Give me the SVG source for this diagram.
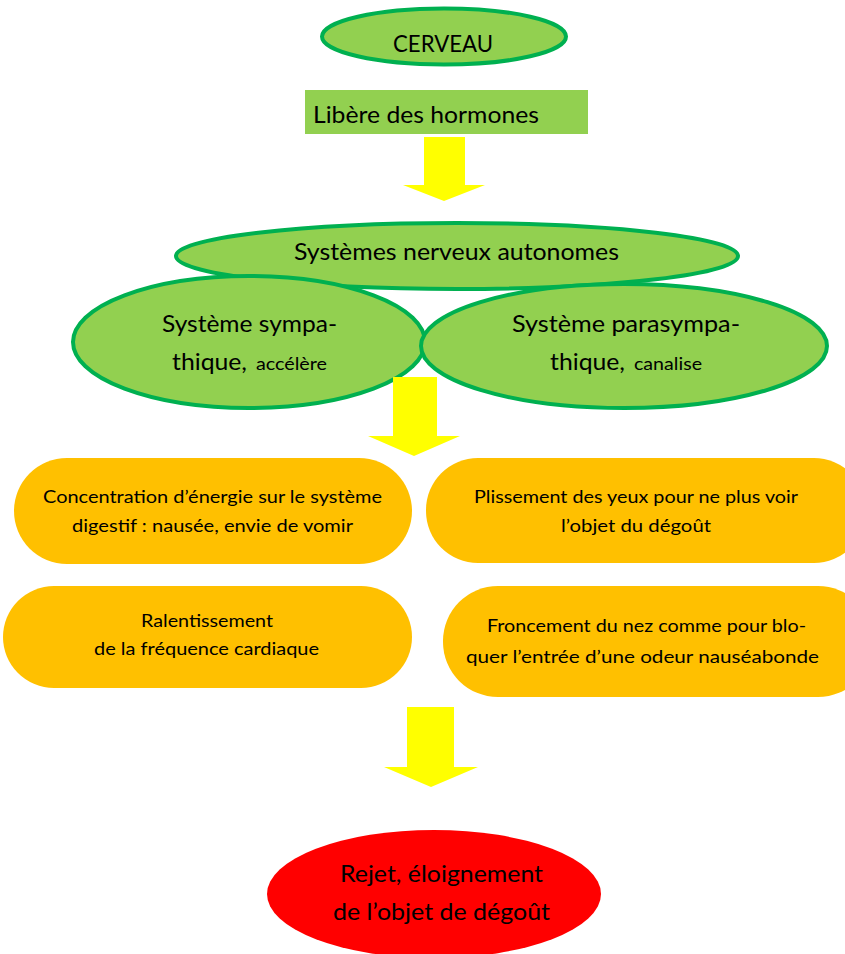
<svg xmlns="http://www.w3.org/2000/svg" width="845" height="954" viewBox="0 0 845 954">
<style>
.g{fill:#92d050;stroke:#00b050;stroke-width:4}
.o{fill:#ffc000}
.a{fill:#ffff00}
text{font-family:Lato,"Open Sans","Liberation Sans",sans-serif;fill:#000}
.t22{font-size:23px}
.t17{font-size:18px}
.t16{font-size:17px}
</style>
<rect width="845" height="954" fill="#fff"/>
<g id="cerveau">
<ellipse class="g" cx="444" cy="36.5" rx="122" ry="28"/>
<text class="t22" x="393" y="52" textLength="100" lengthAdjust="spacingAndGlyphs">CERVEAU</text>
</g>
<g id="hormones">
<rect x="305" y="90" width="283" height="44" fill="#92d050"/>
<text class="t22" x="313" y="123" textLength="226" lengthAdjust="spacingAndGlyphs">Libère des hormones</text>
</g>
<g id="autonomes">
<ellipse class="g" cx="457" cy="256" rx="281" ry="33"/>
<text class="t22" x="294" y="260" textLength="325" lengthAdjust="spacingAndGlyphs">Systèmes nerveux autonomes</text>
</g>
<g id="sympathique">
<ellipse class="g" cx="249" cy="342" rx="176" ry="66"/>
<text class="t22" x="162" y="332" textLength="175" lengthAdjust="spacingAndGlyphs">Système sympa-</text>
<text class="t22" x="172" y="370" textLength="75" lengthAdjust="spacingAndGlyphs">thique,</text>
<text class="t16" x="256" y="370" textLength="71" lengthAdjust="spacingAndGlyphs">accélère</text>
</g>
<g id="parasympathique">
<ellipse class="g" cx="624" cy="346" rx="203" ry="62"/>
<text class="t22" x="512" y="332" textLength="228" lengthAdjust="spacingAndGlyphs">Système parasympa-</text>
<text class="t22" x="550" y="370" textLength="75" lengthAdjust="spacingAndGlyphs">thique,</text>
<text class="t16" x="634" y="370" textLength="68" lengthAdjust="spacingAndGlyphs">canalise</text>
</g>
<g id="connectors">
<polygon class="a" points="424,137 465,137 465,185 485,185 444,201 403,185 424,185"/>
<polygon class="a" points="393,377 437,377 437,436 460,436 414,456 368,436 393,436"/>
<polygon class="a" points="407,707 454,707 454,767 478,767 431,787 384,767 407,767"/>
</g>
<g id="concentration">
<rect class="o" x="14" y="458" width="398" height="106" rx="53"/>
<text class="t17" x="43" y="503" textLength="339" lengthAdjust="spacingAndGlyphs">Concentration d’énergie sur le système</text>
<text class="t17" x="72" y="532" textLength="281" lengthAdjust="spacingAndGlyphs">digestif : nausée, envie de vomir</text>
</g>
<g id="plissement">
<rect class="o" x="426" y="458" width="440" height="105" rx="52"/>
<text class="t17" x="474" y="503" textLength="324" lengthAdjust="spacingAndGlyphs">Plissement des yeux pour ne plus voir</text>
<text class="t17" x="561" y="532" textLength="150" lengthAdjust="spacingAndGlyphs">l’objet du dégoût</text>
</g>
<g id="ralentissement">
<rect class="o" x="3" y="586" width="409" height="102" rx="51"/>
<text class="t17" x="141" y="627" textLength="132" lengthAdjust="spacingAndGlyphs">Ralentissement</text>
<text class="t17" x="94" y="655" textLength="225" lengthAdjust="spacingAndGlyphs">de la fréquence cardiaque</text>
</g>
<g id="froncement">
<rect class="o" x="443" y="586" width="430" height="111" rx="55"/>
<text class="t17" x="487" y="632" textLength="319" lengthAdjust="spacingAndGlyphs">Froncement du nez comme pour blo-</text>
<text class="t17" x="466" y="663" textLength="353" lengthAdjust="spacingAndGlyphs">quer l’entrée d’une odeur nauséabonde</text>
</g>
<g id="rejet">
<ellipse cx="434" cy="894" rx="167" ry="64" fill="#ff0000"/>
<text class="t22" x="340" y="882" textLength="203" lengthAdjust="spacingAndGlyphs">Rejet, éloignement</text>
<text class="t22" x="333" y="920" textLength="217" lengthAdjust="spacingAndGlyphs">de l’objet de dégoût</text>
</g>
</svg>
